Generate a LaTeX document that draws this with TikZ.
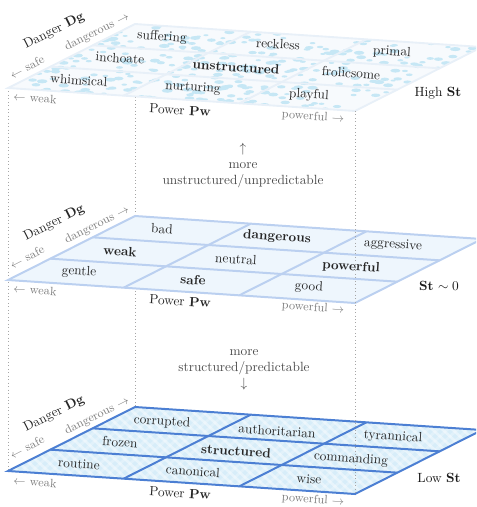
\documentclass[tikz,border=0pt]{standalone}
\usepackage{amsmath}
\usetikzlibrary{calc}

\definecolor{hifill}{HTML}{F7FAFD}
\definecolor{hiline}{HTML}{E8F0F8}
\definecolor{hidot}{HTML}{C6E7F5}
\definecolor{midfill}{HTML}{EEF6FD}
\definecolor{midline}{HTML}{BBD0F0}
\definecolor{lofill}{HTML}{D7EDF9}
\definecolor{loline}{HTML}{4C7FD3}

\tikzstyle{word}=[rotate=-3.8,inner sep=1pt,text=black!85]
\tikzstyle{keyword}=[word,font=\bfseries]
\tikzstyle{tick}=[rotate=-3.8,inner sep=1pt,text=black!50,font=\small]
\tikzstyle{depthtick}=[rotate=27,inner sep=1pt,text=black!50,font=\small]
\tikzstyle{axis}=[rotate=-3.8,inner sep=1pt,text=black!85]
\tikzstyle{depthaxis}=[rotate=27,inner sep=1pt,text=black!85]
\tikzstyle{level}=[inner sep=1pt,text=black!90]
\tikzstyle{note}=[align=center,inner sep=1pt,text=black!70]
\tikzstyle{corner}=[black!35,dotted,line width=0.6pt]

\begin{document}
\begin{tikzpicture}[x=0.75pt,y=-0.75pt]
\clip (0,0) rectangle (476,507);

% plane corners
\coordinate (hi-fl)  at (8,88);
\coordinate (hi-fr)  at (355,111);
\coordinate (hi-br)  at (482,47);
\coordinate (hi-bl)  at (135,24);
\coordinate (mid-fl) at (8,280);
\coordinate (mid-fr) at (355,303);
\coordinate (mid-br) at (482,239);
\coordinate (mid-bl) at (135,216);
\coordinate (lo-fl)  at (8,471);
\coordinate (lo-fr)  at (355,494);
\coordinate (lo-br)  at (482,430);
\coordinate (lo-bl)  at (135,407);

% hidden edges behind the planes
\draw[corner] (hi-fl) -- (lo-fl);
\draw[corner] (hi-bl) -- (lo-bl);

% high structure plane
\fill[hifill] (hi-fl) -- (hi-fr) -- (hi-br) -- (hi-bl) -- cycle;
\begin{scope}
\clip (hi-fl) -- (hi-fr) -- (hi-br) -- (hi-bl) -- cycle;
\pgfmathsetseed{11}
\foreach \i in {1,...,300} {
  \pgfmathsetmacro{\su}{rnd}
  \pgfmathsetmacro{\sv}{rnd}
  \pgfmathsetmacro{\rr}{2.5+3*rnd}
  \fill[hidot] (8+347*\su+127*\sv, 88+23*\su-64*\sv) ellipse [x radius=\rr, y radius=0.38*\rr];
}
\end{scope}
\foreach \k in {1,2} {
  \draw[hiline,line width=1.4pt] ($(hi-fl)!\k/3!(hi-bl)$) -- ($(hi-fr)!\k/3!(hi-br)$);
  \draw[hiline,line width=1.4pt] ($(hi-fl)!\k/3!(hi-fr)$) -- ($(hi-bl)!\k/3!(hi-br)$);
}
\draw[hiline,line width=1.4pt] (hi-fl) -- (hi-fr) -- (hi-br) -- (hi-bl) -- cycle;

% neutral plane
\fill[midfill] (mid-fl) -- (mid-fr) -- (mid-br) -- (mid-bl) -- cycle;
\foreach \k in {1,2} {
  \draw[midline,line width=1.5pt] ($(mid-fl)!\k/3!(mid-bl)$) -- ($(mid-fr)!\k/3!(mid-br)$);
  \draw[midline,line width=1.5pt] ($(mid-fl)!\k/3!(mid-fr)$) -- ($(mid-bl)!\k/3!(mid-br)$);
}
\draw[midline,line width=1.5pt] (mid-fl) -- (mid-fr) -- (mid-br) -- (mid-bl) -- cycle;

% low structure plane
\fill[lofill] (lo-fl) -- (lo-fr) -- (lo-br) -- (lo-bl) -- cycle;
\begin{scope}
\clip (lo-fl) -- (lo-fr) -- (lo-br) -- (lo-bl) -- cycle;
\foreach \k in {-12,...,50} {
  \draw[white,opacity=0.4,line width=2pt] (\k*10,400) -- ++(110,100);
  \draw[white,opacity=0.25,line width=2pt] (\k*10,500) -- ++(110,-100);
}
\end{scope}
\foreach \k in {1,2} {
  \draw[loline,line width=1.5pt] ($(lo-fl)!\k/3!(lo-bl)$) -- ($(lo-fr)!\k/3!(lo-br)$);
  \draw[loline,line width=1.5pt] ($(lo-fl)!\k/3!(lo-fr)$) -- ($(lo-bl)!\k/3!(lo-br)$);
}
\draw[loline,line width=1.5pt] (lo-fl) -- (lo-fr) -- (lo-br) -- (lo-bl) -- cycle;

% front edge in front of the planes
\draw[corner] (hi-fr) -- (lo-fr);

% high structure words
\node[word]    (suffering)    at (162,37)  {suffering};
\node[word]    (inchoate)     at (120,58)  {inchoate};
\node[word]    (whimsical)    at (79,80)   {whimsical};
\node[word]    (reckless)     at (278,44)  {reckless};
\node[keyword] (unstructured) at (236,67)  {unstructured};
\node[word]    (nurturing)    at (193,88)  {nurturing};
\node[word]    (primal)       at (392,52)  {primal};
\node[word]    (frolicsome)   at (351,73)  {frolicsome};
\node[word]    (playful)      at (309,95)  {playful};

% neutral words
\node[word]    (bad)        at (162,229) {bad};
\node[keyword] (weak)       at (120,251) {weak};
\node[word]    (gentle)     at (79,272)  {gentle};
\node[keyword] (dangerous)  at (277,237) {dangerous};
\node[word]    (neutral)    at (236,259) {neutral};
\node[keyword] (safe)       at (193,280) {safe};
\node[word]    (aggressive) at (393,245) {aggressive};
\node[keyword] (powerful)   at (351,267) {powerful};
\node[word]    (good)       at (309,287) {good};

% low structure words
\node[word]    (corrupted)     at (162,422) {corrupted};
\node[word]    (frozen)        at (120,442) {frozen};
\node[word]    (routine)       at (79,464)  {routine};
\node[word]    (authoritarian) at (277,431) {authoritarian};
\node[keyword] (structured)    at (236,451) {structured};
\node[word]    (canonical)     at (193,471) {canonical};
\node[word]    (tyrannical)    at (393,437) {tyrannical};
\node[word]    (commanding)    at (351,459) {commanding};
\node[word]    (wise)          at (309,479) {wise};

% axis labels, high plane
\node[depthaxis] (hi-dg)    at (54,31)   {Danger \textbf{Dg}};
\node[depthtick] (hi-dang)  at (97,32)   {dangerous $\rightarrow$};
\node[depthtick] (hi-safe)  at (27,67)   {$\leftarrow$ safe};
\node[tick]      (hi-weak)  at (35,98)   {$\leftarrow$ weak};
\node[axis]      (hi-pw)    at (180,110) {Power \textbf{Pw}};
\node[tick]      (hi-power) at (313,117) {powerful $\rightarrow$};
\node[level]     (hi-st)    at (438,93)  {High \textbf{St}};

% axis labels, neutral plane
\node[depthaxis] (mid-dg)    at (54,223)  {Danger \textbf{Dg}};
\node[depthtick] (mid-dang)  at (97,225)  {dangerous $\rightarrow$};
\node[depthtick] (mid-safe)  at (27,257)  {$\leftarrow$ safe};
\node[tick]      (mid-weak)  at (35,290)  {$\leftarrow$ weak};
\node[axis]      (mid-pw)    at (180,301) {Power \textbf{Pw}};
\node[tick]      (mid-power) at (313,308) {powerful $\rightarrow$};
\node[level]     (mid-st)    at (439,286) {\textbf{St} $\sim 0$};

% axis labels, low plane
\node[depthaxis] (lo-dg)    at (54,414)  {Danger \textbf{Dg}};
\node[depthtick] (lo-dang)  at (97,416)  {dangerous $\rightarrow$};
\node[depthtick] (lo-safe)  at (27,447)  {$\leftarrow$ safe};
\node[tick]      (lo-weak)  at (35,482)  {$\leftarrow$ weak};
\node[axis]      (lo-pw)    at (180,493) {Power \textbf{Pw}};
\node[tick]      (lo-power) at (313,500) {powerful $\rightarrow$};
\node[level]     (lo-st)    at (439,478) {Low \textbf{St}};

% direction notes
\node[note] (up)   at (243,166) {$\uparrow$\\more\\unstructured/unpredictable};
\node[note] (down) at (244,370) {more\\structured/predictable\\$\downarrow$};

\end{tikzpicture}
\end{document}
